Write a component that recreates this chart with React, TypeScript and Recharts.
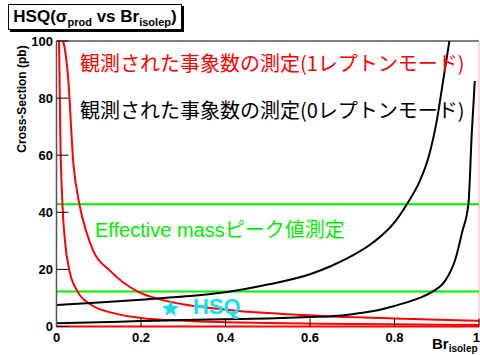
import React from 'react';
import { ComposedChart, Line, XAxis, YAxis, Scatter, ReferenceLine } from 'recharts';

// Br_isolep vs cross-section (pb)
const brRed1 = [0.004, 0.006, 0.009, 0.014, 0.02, 0.03, 0.05, 0.08, 0.14, 0.2, 0.3, 0.4, 0.5, 0.62, 0.8, 1.0];
const sigmaRed1 = [115, 100, 67, 43, 30, 20, 12.2, 7.8, 4.5, 3.0, 2.0, 1.5, 1.2, 1.0, 0.75, 0.5];

const brRed2 = [0.006, 0.022, 0.027, 0.04, 0.054, 0.071, 0.087, 0.127, 0.19, 0.245, 0.31, 0.4, 0.5, 0.64, 0.8, 1.0];
const sigmaRed2 = [104, 95, 88, 57, 43, 33, 26.5, 19.5, 12.4, 9.5, 7.5, 5.9, 4.7, 3.6, 2.8, 2.0];

const brBlack1 = [0, 0.1, 0.2, 0.3, 0.4, 0.5, 0.6, 0.65, 0.7, 0.75, 0.8, 0.83, 0.86, 0.88, 0.9, 0.915, 0.93, 0.94];
const sigmaBlack1 = [7.5, 8.4, 9.4, 10.5, 12.0, 14.7, 18.3, 21.2, 24.8, 29.5, 36.5, 43, 51, 59, 72, 86, 100, 109];

const brBlack2 = [0, 0.1, 0.2, 0.3, 0.4, 0.5, 0.6, 0.65, 0.7, 0.75, 0.8, 0.85, 0.89, 0.92, 0.945, 0.96, 0.975, 0.983, 0.99];
const sigmaBlack2 = [1.1, 1.5, 1.9, 2.3, 2.5, 2.8, 3.3, 3.6, 4.3, 5.4, 7.2, 9.5, 12.2, 16, 24, 33, 43, 68, 86];

const brGreen = [0, 1];
const sigmaMassHigh = [42.8, 42.8];
const sigmaMassLow = [12.3, 12.3];

const hsqBr = [0.27];
const hsqSigma = [6.2];

const xMajorTicks = [0, 0.2, 0.4, 0.6, 0.8, 1];
const xMinorTicks = [0, 0.05, 0.1, 0.15, 0.2, 0.25, 0.3, 0.35, 0.4, 0.45, 0.5, 0.55, 0.6, 0.65, 0.7, 0.75, 0.8, 0.85, 0.9, 0.95, 1];
const yMajorTicks = [0, 20, 40, 60, 80, 100];
const yMinorTicks = [0, 5, 10, 15, 20, 25, 30, 35, 40, 45, 50, 55, 60, 65, 70, 75, 80, 85, 90, 95, 100];

const RED = '#ff0000';
const GREEN = '#00ee00';
const CYAN = '#10e0f0';
const SANS = '"Liberation Sans", Arial, sans-serif';
const CJK = '"Noto Sans CJK JP", sans-serif';

const toPoints = (xs: number[], ys: number[]) => xs.map((br, i) => ({ br, sigma: ys[i] }));

const Star = (props: any) => {
  const { cx, cy } = props;
  const pts: string[] = [];
  for (let i = 0; i < 10; i++) {
    const r = i % 2 === 0 ? 9 : 3.8;
    const a = -Math.PI / 2 + (i * Math.PI) / 5;
    pts.push(`${cx + r * Math.cos(a)},${cy + r * Math.sin(a)}`);
  }
  return <polygon points={pts.join(' ')} fill={CYAN} />;
};

const tickFont = { fontSize: 13, fontWeight: 'bold', fontFamily: SANS, fill: '#000' };

// last label sits on the window edge, keep it inside
const XTick = (props: any) => {
  const { x, y, payload } = props;
  const atEdge = payload.value === 1;
  return (
    <text x={atEdge ? 480 : x} y={y} dy='0.71em' textAnchor={atEdge ? 'end' : 'middle'} {...tickFont}>
      {payload.value}
    </text>
  );
};

export default function App() {
  return (
    <div style={{ position: 'absolute', left: 0, top: 0, width: 480, height: 355, background: '#fff' }}>
      <ComposedChart width={480} height={355} margin={{ top: 41, right: 1, bottom: 26.5, left: 54.5 }}>
        <XAxis
          dataKey='br'
          type='number'
          domain={[0, 1]}
          ticks={xMajorTicks}
          interval={0}
          height={1}
          allowDataOverflow
          tickSize={-8}
          tickMargin={14.5}
          tick={<XTick />}
          axisLine={{ stroke: RED, strokeWidth: 2 }}
          tickLine={{ stroke: '#000' }}
        />
        <XAxis
          xAxisId='minor'
          dataKey='br'
          type='number'
          domain={[0, 1]}
          ticks={xMinorTicks}
          interval={0}
          height={1}
          allowDataOverflow
          tickSize={-5}
          tick={false}
          axisLine={false}
          tickLine={{ stroke: '#000' }}
        />
        <YAxis
          type='number'
          domain={[0, 100]}
          ticks={yMajorTicks}
          interval={0}
          width={1}
          allowDataOverflow
          tickSize={-12}
          tickMargin={15.5}
          tick={tickFont}
          axisLine={{ stroke: '#555', strokeWidth: 1.5 }}
          tickLine={{ stroke: '#000' }}
        />
        <YAxis
          yAxisId='minor'
          type='number'
          domain={[0, 100]}
          ticks={yMinorTicks}
          interval={0}
          width={1}
          allowDataOverflow
          tickSize={-7}
          tick={false}
          axisLine={false}
          tickLine={{ stroke: '#000' }}
        />
        <ReferenceLine y={100} stroke='#000' />
        <ReferenceLine x={1} stroke='#f4b4b4' />
        <Line data={toPoints(brGreen, sigmaMassHigh)} dataKey='sigma' type='linear' stroke={GREEN} strokeWidth={2} dot={false} isAnimationActive={false} />
        <Line data={toPoints(brGreen, sigmaMassLow)} dataKey='sigma' type='linear' stroke={GREEN} strokeWidth={2} dot={false} isAnimationActive={false} />
        <Line data={toPoints(brRed1, sigmaRed1)} dataKey='sigma' type='monotone' stroke={RED} strokeWidth={2} dot={false} isAnimationActive={false} />
        <Line data={toPoints(brRed2, sigmaRed2)} dataKey='sigma' type='monotone' stroke={RED} strokeWidth={2} dot={false} isAnimationActive={false} />
        <Line data={toPoints(brBlack1, sigmaBlack1)} dataKey='sigma' type='monotone' stroke='#000' strokeWidth={2} dot={false} isAnimationActive={false} />
        <Line data={toPoints(brBlack2, sigmaBlack2)} dataKey='sigma' type='monotone' stroke='#000' strokeWidth={2} dot={false} isAnimationActive={false} />
        <Scatter data={toPoints(hsqBr, hsqSigma)} dataKey='sigma' shape={Star} isAnimationActive={false} />
      </ComposedChart>

      <div
        style={{
          position: 'absolute', left: 8, top: 4, width: 172, height: 24,
          border: '1px solid #000', boxShadow: '2px 2px 0 #000', background: '#fff',
          font: `bold 17px ${SANS}`, lineHeight: '24px', textAlign: 'center', whiteSpace: 'nowrap',
        }}
      >
        HSQ(σ<span style={{ fontSize: 11, position: 'relative', top: 4 }}>prod</span> vs Br
        <span style={{ fontSize: 11, position: 'relative', top: 4 }}>isolep</span>)
      </div>

      <div
        style={{
          position: 'absolute', left: 22, top: 98.5, transform: 'translate(-50%, -50%) rotate(-90deg)',
          font: `bold 12px ${SANS}`, whiteSpace: 'nowrap', lineHeight: 1,
        }}
      >
        Cross-Section (pb)
      </div>

      <div style={{ position: 'absolute', left: 432, top: 336, font: `bold 15px ${SANS}`, lineHeight: 1, whiteSpace: 'nowrap' }}>
        Br<span style={{ fontSize: 10, position: 'relative', top: 3 }}>isolep</span>
      </div>

      <div style={{ position: 'absolute', left: 80, top: 53, font: `20px ${CJK}`, lineHeight: 1, color: RED, whiteSpace: 'nowrap' }}>
        観測された事象数の測定(1レプトンモード)
      </div>
      <div style={{ position: 'absolute', left: 80, top: 100, font: `20px ${CJK}`, lineHeight: 1, color: '#000', whiteSpace: 'nowrap' }}>
        観測された事象数の測定(0レプトンモード)
      </div>
      <div style={{ position: 'absolute', left: 95, top: 219, font: `20px ${SANS}`, lineHeight: 1, color: GREEN, whiteSpace: 'nowrap' }}>
        Effective mass<span style={{ fontFamily: CJK }}>ピーク値測定</span>
      </div>
      <div style={{ position: 'absolute', left: 193, top: 296, font: `bold 22px ${SANS}`, lineHeight: 1, color: CYAN, whiteSpace: 'nowrap' }}>
        HSQ
      </div>
    </div>
  );
}
